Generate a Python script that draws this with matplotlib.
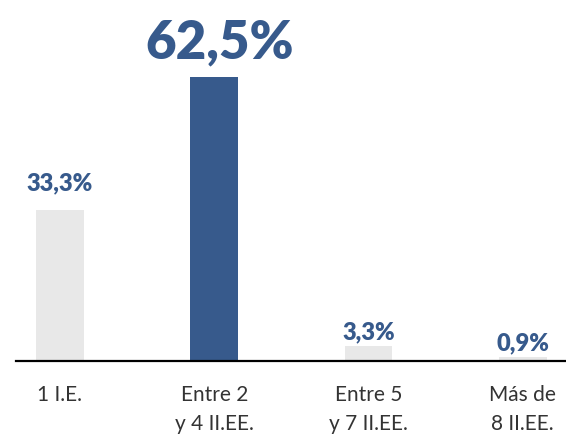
import matplotlib.pyplot as plt

categorias = ['1 I.E.', 'Entre 2\ny 4 II.EE.', 'Entre 5\ny 7 II.EE.', 'Más de\n8 II.EE.']
valores = [33.3, 62.5, 3.3, 0.9]
etiquetas = ['33,3%', '62,5%', '3,3%', '0,9%']

gris = '#e8e8e8'
azul = '#375a8c'
colores = [gris, azul, gris, gris]

plt.rcParams['font.family'] = ['Lato', 'DejaVu Sans']

fig = plt.figure(figsize=(5.66, 4.38), dpi=100)
ax = fig.add_axes([16 / 566, 77 / 438, 550 / 566, 361 / 438])

x = list(range(len(valores)))
ax.bar(x, valores, width=0.31, color=colores, zorder=2)

for xi, v, et in zip(x, valores, etiquetas):
    grande = v == max(valores)
    ax.annotate(et, (xi, v), xytext=(4 if grande else 0, 7 if grande else (11 if v > 10 else 2)),
                textcoords='offset points', ha='center', va='bottom',
                fontsize=38 if grande else 17, fontweight='heavy', color=azul)

ax.set_xlim(-0.285, 3.28)
ax.set_ylim(0, 79.5)
ax.set_xticks(x)
ax.set_xticklabels(categorias, fontsize=15, color='#333333', linespacing=1.6)
ax.tick_params(axis='x', length=0, pad=17)
ax.set_yticks([])
for s in ['top', 'left', 'right']:
    ax.spines[s].set_visible(False)
ax.spines['bottom'].set_linewidth(1.6)
ax.spines['bottom'].set_color('black')
ax.spines['bottom'].set_zorder(3)

fig.savefig('out.png', dpi=100)
